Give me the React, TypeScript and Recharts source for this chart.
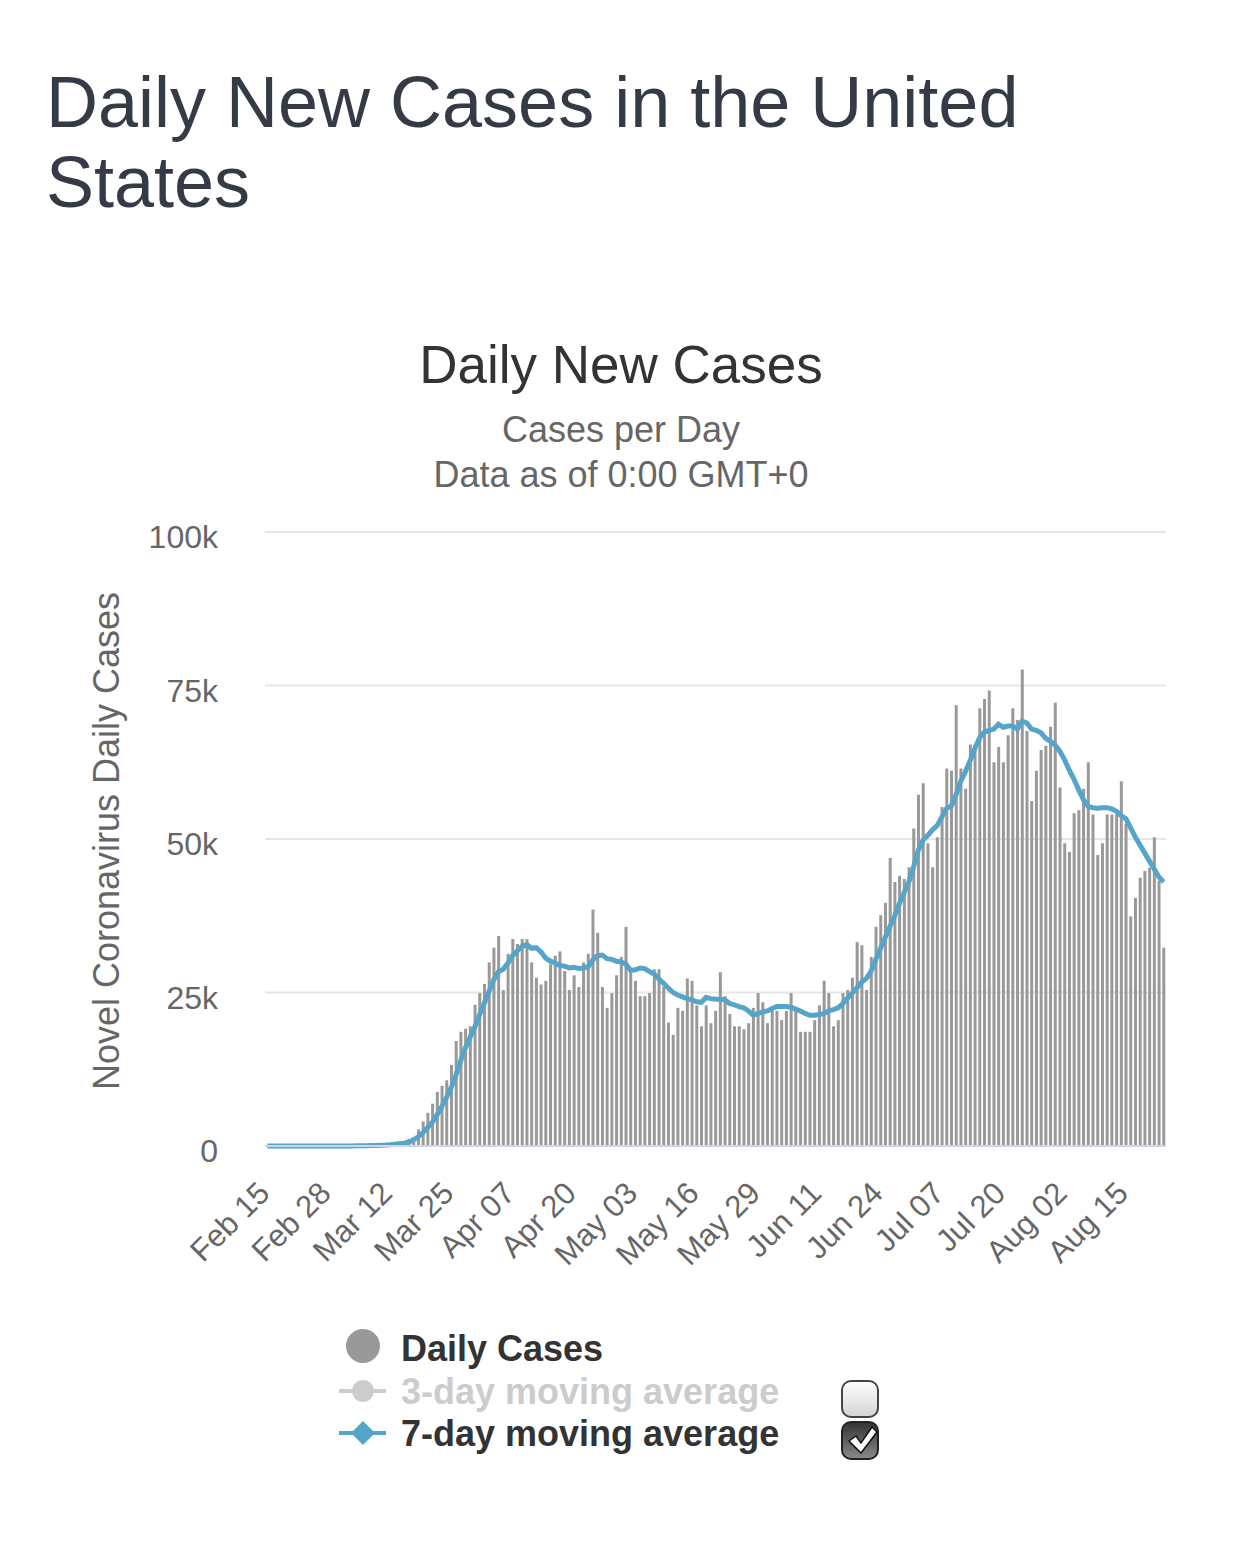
import React from 'react';
import { ComposedChart, Bar, Line, XAxis, YAxis, CartesianGrid } from 'recharts';

const FONT = '"Liberation Sans", Arial, Helvetica, sans-serif';

// month, first day shown, last day shown
const monthSpans: [string, number, number][] = [
  ['Feb', 15, 29],
  ['Mar', 1, 31],
  ['Apr', 1, 30],
  ['May', 1, 31],
  ['Jun', 1, 30],
  ['Jul', 1, 31],
  ['Aug', 1, 23],
];

// daily new cases
const dailyFeb = [0, 0, 0, 0, 0, 0, 1, 0, 0, 1, 3, 1, 1, 3, 4];
const dailyMar = [
  8, 23, 26, 31, 70, 65, 117, 116, 161, 336, 285, 457, 579, 704, 733, 1144,
  1350, 2700, 4000, 5400, 6900, 8800, 9800, 10700, 13200, 17100, 18600, 19100, 19500, 23000, 24900,
];
const dailyApr = [
  26400, 29900, 32300, 34200, 25400, 31300, 33700, 32900, 33700, 33700,
  29900, 27400, 26300, 26900, 29600, 31000, 31700, 28500, 25400, 27800,
  25900, 29900, 31300, 38500, 34700, 25900, 22500, 24900, 27800, 30800,
];
const dailyMay = [
  35700, 28400, 26900, 24400, 24400, 24900, 28800, 28800, 25900, 20100,
  18100, 22500, 22000, 27300, 26900, 22900, 19500, 22900, 20000, 22000,
  28300, 24400, 21500, 19500, 19500, 19000, 20000, 22500, 24900, 23400, 20000,
];
const dailyJun = [
  22000, 22000, 20500, 22000, 24900, 22000, 18600, 18600, 18600, 20500,
  22900, 26900, 24900, 19500, 20500, 24900, 25400, 27400, 33200, 32700,
  25400, 30800, 35700, 37600, 39600, 46900, 43000, 44000, 43500, 45400,
];
const dailyJul = [
  51700, 57200, 59100, 49300, 45400, 50300, 55200, 61500, 61100, 71800,
  61500, 58200, 65400, 65400, 71300, 72800, 74200, 62500, 65000, 62500,
  66900, 71300, 69400, 77600, 67600, 56200, 61100, 64500, 65200, 68300, 72200,
];
const dailyAug = [
  58400, 49300, 47900, 54200, 54700, 58200, 62500, 54000, 47400, 49300,
  54000, 54000, 54000, 59400, 52500, 37400, 40400, 43700, 44800, 45300,
  50300, 43200, 32300,
];

// 7-day moving average
const avgFeb = [0, 0, 0, 0, 0, 0, 0, 0, 0, 0, 1, 1, 1, 1, 2];
const avgMar = [
  3, 5, 9, 13, 23, 32, 49, 64, 83, 127, 159, 212, 285, 369, 459, 650,
  1000, 1500, 2200, 3000, 3900, 5100, 6500, 7900, 9600, 11600, 13900, 16000, 17700, 19400, 21400,
];
const avgApr = [
  23300, 25200, 27100, 28400, 28800, 29800, 31000, 31800, 32500, 32800,
  32200, 32300, 31600, 30600, 30100, 29800, 29400, 29300, 29000, 29100,
  28900, 29000, 29200, 30300, 31000, 31100, 30500, 30400, 30100, 30000,
];
const avgMay = [
  29600, 28600, 28700, 29000, 28900, 28400, 28000, 27200, 26500, 25700,
  25000, 24600, 24300, 24000, 23800, 23500, 23400, 24200, 24000, 23900,
  23900, 23800, 23200, 23000, 22700, 22500, 22000, 21300, 21600, 21800, 22000,
];
const avgJun = [
  22400, 22700, 22700, 22700, 22600, 22300, 22000, 21600, 21300, 21300,
  21400, 21600, 22000, 22200, 22500, 23200, 24100, 24900, 25800, 26700,
  27300, 28500, 30400, 32200, 34000, 35800, 37500, 39500, 41300, 43000,
];
const avgJul = [
  45500, 48200, 49800, 50600, 51500, 52200, 53600, 55000, 55400, 57200,
  59400, 61000, 62800, 64800, 66500, 67400, 67700, 67900, 68700, 68200,
  68400, 68400, 67900, 69200, 68900, 67900, 67700, 67300, 66400, 65900, 65300,
];
const avgAug = [
  64300, 62900, 61200, 59700, 58000, 56400, 55300, 55100, 55000, 55100,
  55100, 54900, 54500, 53800, 53300, 51800, 50300, 49000, 47700, 46400,
  45100, 43800, 43000,
];

const yTicks = [0, 25000, 50000, 75000, 100000];

const dates = monthSpans.flatMap(([m, first, last]) =>
  Array.from({ length: last - first + 1 }, (_, k) => `${m} ${String(first + k).padStart(2, '0')}`)
);
const daily = [...dailyFeb, ...dailyMar, ...dailyApr, ...dailyMay, ...dailyJun, ...dailyJul, ...dailyAug];
const avg7 = [...avgFeb, ...avgMar, ...avgApr, ...avgMay, ...avgJun, ...avgJul, ...avgAug];
const data = dates.map((date, i) => ({ date, daily: daily[i], avg7: avg7[i] }));

const BAR_COLOR = '#999999';
const LINE_COLOR = '#55a4ca';

const XTick = ({ x, y, payload }: any) => (
  <text
    x={x + 4}
    y={y + 49}
    transform={`rotate(-45, ${x + 4}, ${y + 49})`}
    textAnchor="end"
    fontSize={31}
    fontFamily={FONT}
    fill="#666666"
  >
    {payload.value}
  </text>
);

const YTick = ({ x, y, payload }: any) => (
  <text x={x} y={y + 5} dy="0.35em" textAnchor="end" fontSize={32} fontFamily={FONT} fill="#666666">
    {payload.value === 0 ? '0' : `${payload.value / 1000}k`}
  </text>
);

const YLabel = ({ viewBox }: any) => {
  const cx = viewBox.x + 4;
  const cy = viewBox.y + viewBox.height / 2 + 2;
  return (
    <text
      x={cx}
      y={cy}
      transform={`rotate(-90, ${cx}, ${cy})`}
      textAnchor="middle"
      fontSize={36}
      fontFamily={FONT}
      fill="#666666"
    >
      Novel Coronavirus Daily Cases
    </text>
  );
};

const Legend = () => (
  <svg width={1226} height={220} style={{ position: 'absolute', left: 0, top: 1300 }}>
    <defs>
      <linearGradient id="boxOff" x1="0" y1="0" x2="0" y2="1">
        <stop offset="0" stopColor="#ffffff" />
        <stop offset="1" stopColor="#d4d4d4" />
      </linearGradient>
      <linearGradient id="boxOn" x1="0" y1="0" x2="0" y2="1">
        <stop offset="0" stopColor="#333333" />
        <stop offset="1" stopColor="#8a8a8a" />
      </linearGradient>
    </defs>
    {/* Daily Cases */}
    <circle cx={355} cy={38} r={17} fill={BAR_COLOR} />
    <text x={393} y={53} fontSize={36} fontWeight="bold" fontFamily={FONT} fill="#333333">Daily Cases</text>
    {/* 3-day (hidden) */}
    <line x1={331} y1={83} x2={378} y2={83} stroke="#cccccc" strokeWidth={4} />
    <circle cx={355} cy={83} r={11} fill="#cccccc" />
    <text x={393} y={96} fontSize={36} fontWeight="bold" fontFamily={FONT} fill="#cccccc">3-day moving average</text>
    <rect x={834} y={73} width={36} height={36} rx={9} fill="url(#boxOff)" stroke="#444444" strokeWidth={2} />
    {/* 7-day */}
    <line x1={331} y1={125} x2={378} y2={125} stroke={LINE_COLOR} strokeWidth={4} />
    <path d="M355 113 L367 125 L355 137 L343 125 Z" fill={LINE_COLOR} />
    <text x={393} y={138} fontSize={36} fontWeight="bold" fontFamily={FONT} fill="#333333">7-day moving average</text>
    <rect x={834} y={114} width={36} height={37} rx={9} fill="url(#boxOn)" stroke="#222222" strokeWidth={2} />
    <path d="M841 133 L848 128 L853 135 L864 119 L869 124 L853 145 Z" fill="#ffffff" stroke="#111111" strokeWidth={1.5} />
  </svg>
);

export default function App() {
  return (
    <div style={{ position: 'relative', width: 1226, height: 1541, fontFamily: FONT, background: '#ffffff' }}>
      <div
        style={{
          position: 'absolute', left: 38, top: 54, fontSize: 72, lineHeight: '80px',
          color: '#343a46', whiteSpace: 'nowrap',
        }}
      >
        <div>Daily New Cases in the United</div>
        <div>States</div>
      </div>
      <div
        style={{
          position: 'absolute', left: 313, top: 330, width: 600, textAlign: 'center',
          fontSize: 53, lineHeight: '53px', color: '#333333',
        }}
      >
        Daily New Cases
      </div>
      <div
        style={{
          position: 'absolute', left: 313, top: 404, width: 600, textAlign: 'center',
          fontSize: 36, lineHeight: '36px', color: '#666666',
        }}
      >
        Cases per Day
      </div>
      <div
        style={{
          position: 'absolute', left: 313, top: 449, width: 600, textAlign: 'center',
          fontSize: 36, lineHeight: '36px', color: '#666666',
        }}
      >
        Data as of 0:00 GMT+0
      </div>
      <div style={{ position: 'absolute', left: 0, top: 0 }}>
        <ComposedChart
          width={1226}
          height={1300}
          data={data}
          margin={{ top: 524, right: 68, left: 107, bottom: 62 }}
        >
          <CartesianGrid vertical={false} stroke="#e6e6e6" strokeWidth={2} />
          <XAxis
            dataKey="date"
            interval={12}
            tickLine={false}
            tickSize={0}
            tickMargin={0}
            axisLine={{ stroke: '#ccd6eb', strokeWidth: 2 }}
            tick={<XTick />}
            height={100}
          />
          <YAxis
            domain={[0, 100000]}
            ticks={yTicks}
            width={150}
            tickLine={false}
            axisLine={false}
            tickSize={0}
            tickMargin={47}
            tick={<YTick />}
            label={<YLabel />}
          />
          <Bar dataKey="daily" fill={BAR_COLOR} barSize={3} isAnimationActive={false} />
          <Line
            type="linear"
            dataKey="avg7"
            stroke={LINE_COLOR}
            strokeWidth={5}
            dot={false}
            activeDot={false}
            isAnimationActive={false}
          />
        </ComposedChart>
      </div>
      <Legend />
    </div>
  );
}
